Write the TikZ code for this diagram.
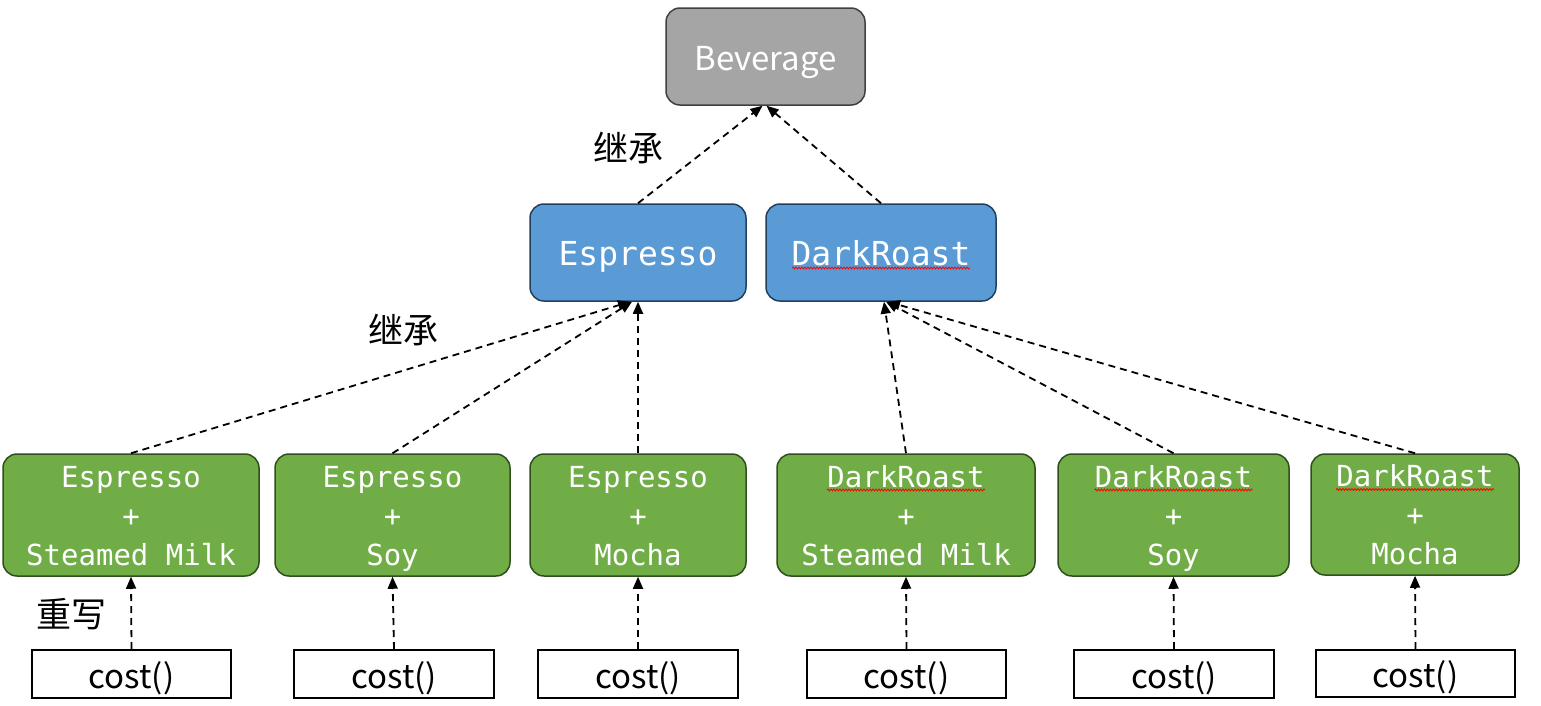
\documentclass[tikz,border=0pt]{standalone}
\usepackage{fontspec}
\newfontfamily\cjk{Noto Sans CJK SC}
\newfontfamily\mono{DejaVu Sans Mono}
\usetikzlibrary{arrows.meta,calc,decorations.pathmorphing}
\definecolor{bevF}{HTML}{A5A5A5}
\definecolor{bevB}{HTML}{404040}
\definecolor{blueF}{HTML}{5B9BD5}
\definecolor{blueB}{HTML}{223F5E}
\definecolor{greenF}{HTML}{70AD47}
\definecolor{greenB}{HTML}{2F4F1D}
\tikzset{
  box/.style={rounded corners=14pt, line width=1.5pt, inner sep=0pt, align=center, text=white},
  graybox/.style={box, fill=bevF, draw=bevB, minimum width=199pt, minimum height=97pt, text height=30pt, text depth=3pt, font=\cjk\fontsize{33}{38}\selectfont},
  bluebox/.style={box, fill=blueF, draw=blueB, minimum height=97pt, text height=30pt, text depth=5pt, font=\mono\fontsize{33}{38}\selectfont},
  greenbox/.style={box, fill=greenF, draw=greenB, minimum height=122pt, font=\mono\fontsize{29}{39}\selectfont},
  costbox/.style={draw=black, fill=white, line width=2pt, inner sep=0pt, minimum width=199pt, minimum height=48pt, text height=30pt, text depth=2pt, font=\cjk\fontsize{33}{36}\selectfont},
  lbl/.style={inner sep=0pt, font=\cjk\fontsize{35}{40}\selectfont},
  dep/.style={draw=black, line width=1.8pt, dash pattern=on 7pt off 5pt, -{Stealth[length=12pt,width=10pt,inset=0pt]}},
  squig/.style={draw=red, line width=0.8pt, decorate, decoration={snake, amplitude=1pt, segment length=3pt}}
}
\newcommand{\gtxt}[3]{\rule{0pt}{22pt}#1\\#2\\\smash{#3}}
\begin{document}
\begin{tikzpicture}[x=1pt,y=-1pt]
\useasboundingbox (0,0) rectangle (1541,705);
\fill[white] (0,0) rectangle (1541,705);
% top
\node[graybox] (bev) at (765.5,56.5) {Beverage};
\node[bluebox, minimum width=216pt] (esp) at (638,252.5) {Espresso};
\node[bluebox, minimum width=230pt] (dr) at (881,252.5) {DarkRoast};
% green
\node[greenbox, minimum width=256pt] (g1) at (131,515) {\gtxt{Espresso}{+}{Steamed Milk}};
\node[greenbox, minimum width=235pt] (g2) at (392.5,515) {\gtxt{Espresso}{+}{Soy}};
\node[greenbox, minimum width=216pt] (g3) at (638,515) {\gtxt{Espresso}{+}{Mocha}};
\node[greenbox, minimum width=258pt] (g4) at (906,515) {\gtxt{DarkRoast}{+}{Steamed Milk}};
\node[greenbox, minimum width=231pt] (g5) at (1173.5,515) {\gtxt{DarkRoast}{+}{Soy}};
\node[greenbox, minimum width=208pt, minimum height=121pt] (g6) at (1415,514.5) {\gtxt{DarkRoast}{+}{Mocha}};
% cost
\node[costbox] (c1) at (131.5,674) {cost()};
\node[costbox, minimum width=200pt] (c2) at (394,674) {cost()};
\node[costbox, minimum width=200pt] (c3) at (638,674) {cost()};
\node[costbox] (c4) at (906.5,674) {cost()};
\node[costbox, minimum width=200pt] (c5) at (1174,674) {cost()};
\node[costbox, minimum height=47pt] (c6) at (1415.5,673.5) {cost()};
% labels
\node[lbl] (l1) at (628,148) {继承};
\node[lbl] (l2) at (403,330) {继承};
\node[lbl] (l3) at (71,614) {重写};
% squiggles
\draw[squig] ($(dr.center)+(-89,15.5)$) -- ($(dr.center)+(89,15.5)$);
\draw[squig] ($(g4.center)+(-79,-25)$) -- ($(g4.center)+(79,-25)$);
\draw[squig] ($(g5.center)+(-79,-25)$) -- ($(g5.center)+(79,-25)$);
\draw[squig] ($(g6.center)+(-79,-25)$) -- ($(g6.center)+(79,-25)$);
% connectors
\draw[dep] (esp.north) -- ($(bev.south)+(-3,0)$);
\draw[dep] (dr.north) -- ($(bev.south)+(1,0)$);
\draw[dep] (g1.north) -- ($(esp.south)+(-8,0)$);
\draw[dep] (g2.north) -- ($(esp.south)+(-6,0)$);
\draw[dep] (g3.north) -- (esp.south);
\draw[dep] (g4.north) -- ($(dr.south)+(3,0)$);
\draw[dep] (g5.north) -- ($(dr.south)+(5,0)$);
\draw[dep] (g6.north) -- ($(dr.south)+(7,0)$);
\draw[dep] (c1.north) -- (g1.south);
\draw[dep] (c2.north) -- (g2.south);
\draw[dep] (c3.north) -- (g3.south);
\draw[dep] (c4.north) -- (g4.south);
\draw[dep] (c5.north) -- (g5.south);
\draw[dep] (c6.north) -- (g6.south);
\end{tikzpicture}
\end{document}
